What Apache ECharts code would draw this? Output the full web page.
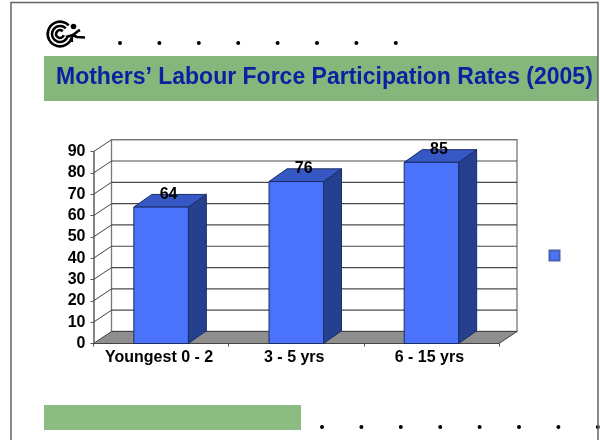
<!DOCTYPE html>
<html><head><meta charset="utf-8">
<style>html,body{margin:0;padding:0;background:#fff}#c{width:600px;height:440px}</style>
<script src="https://cdn.jsdelivr.net/npm/echarts@6/dist/echarts.min.js"></script>
</head><body><div id="c"></div>
<script>
const categories = ['Youngest 0 - 2', '3 - 5 yrs', '6 - 15 yrs'];
const values = [64, 76, 85];
const yTicks = [0, 10, 20, 30, 40, 50, 60, 70, 80, 90];
const titleText = 'Mothers\u2019 Labour Force Participation Rates (2005)';

const DX = 18, DY = -12;
const BAR_W = 54.5, BDX = 18, BDY = -12.7;
const FONT = '"Liberation Sans", Arial, sans-serif';
const chart = echarts.init(document.getElementById('c'), null, {renderer: 'canvas'});

function wallItem(params, api) {
  const cs = params.coordSys;
  const v = api.value(1);
  const y = api.coord([0, v])[1];
  const x0 = cs.x, x1 = cs.x + cs.width;
  const children = [];
  if (v === 0) {
    const yb = y;
    children.push({type: 'polygon', shape: {points: [[x0, yb], [x0 + DX, yb + DY], [x1 + DX, yb + DY], [x1, yb]]},
      style: {fill: '#8e8e8e', stroke: '#444', lineWidth: 1}});
    const top = api.coord([0, 90])[1];
    children.unshift({type: 'rect', shape: {x: x0 + DX, y: top + DY, width: cs.width, height: yb - top},
      style: {fill: '#fff', stroke: '#777', lineWidth: 1.3}});
  } else {
    children.push({type: 'line', shape: {x1: x0, y1: y, x2: x0 + DX, y2: y + DY}, style: {stroke: '#444', lineWidth: 1}});
    children.push({type: 'line', shape: {x1: x0 + DX, y1: y + DY, x2: x1 + DX, y2: y + DY},
      style: {stroke: v === 90 ? '#777' : '#4a4a4a', lineWidth: 1.2}});
  }
  return {type: 'group', children};
}

function barItem(params, api) {
  const p = api.coord([api.value(0), api.value(1)]);
  const b = api.coord([api.value(0), 0]);
  const l = p[0] - BAR_W / 2, r = p[0] + BAR_W / 2, t = p[1], bot = b[1];
  const edge = '#1c2c66';
  return {type: 'group', children: [
    {type: 'polygon', shape: {points: [[r, t], [r + BDX, t + BDY], [r + BDX, bot + BDY], [r, bot]]},
      style: {fill: '#24408f', stroke: edge, lineWidth: 1}},
    {type: 'polygon', shape: {points: [[l, t], [l + BDX, t + BDY], [r + BDX, t + BDY], [r, t]]},
      style: {fill: '#3558c4', stroke: edge, lineWidth: 1}},
    {type: 'rect', shape: {x: l, y: t, width: BAR_W, height: bot - t},
      style: {fill: '#4a72fa', stroke: edge, lineWidth: 1}},
    {type: 'text', x: p[0] + 7.5, y: t - 13,
      style: {text: String(api.value(1)), fill: '#000', font: 'bold 16px ' + FONT, align: 'center', verticalAlign: 'middle'}}
  ]};
}

const deco = [];
deco.push({type: 'polyline', shape: {points: [[11, 440], [11, 2.5], [598, 2.5], [598, 440]]}, style: {stroke: '#666', lineWidth: 1.5, fill: null}, z: 10});
deco.push({type: 'rect', shape: {x: 44, y: 56, width: 554, height: 45}, style: {fill: '#85b77d'}});
deco.push({type: 'rect', shape: {x: 44, y: 405, width: 257, height: 25}, style: {fill: '#8dbc83'}});
deco.push({type: 'text', x: 56, y: 77.5, style: {text: titleText, fill: '#0a22a2', font: 'bold 23px ' + FONT, verticalAlign: 'middle'}});
for (let i = 0; i < 8; i++) {
  deco.push({type: 'circle', shape: {cx: 120 + 39.4 * i, cy: 43, r: 2}, style: {fill: '#000'}});
  deco.push({type: 'circle', shape: {cx: 322 + 39.4 * i, cy: 427, r: 2}, style: {fill: '#000'}});
}
[12.3, 8, 3.9].forEach(r => {
  deco.push({type: 'arc', shape: {cx: 60, cy: 34, r, startAngle: 0.3, endAngle: 5.5, clockwise: true},
    style: {stroke: '#000', lineWidth: 2.6, fill: null}});
});
deco.push({type: 'circle', shape: {cx: 73.5, cy: 26.5, r: 2.8}, style: {fill: '#000'}});
deco.push({type: 'polyline', shape: {points: [[66, 37], [73, 35], [78, 31], [80, 30]]}, style: {stroke: '#000', lineWidth: 2.6, fill: null}});
deco.push({type: 'polyline', shape: {points: [[72, 35], [77, 37], [85, 37.5]]}, style: {stroke: '#000', lineWidth: 2.6, fill: null}});
deco.push({type: 'polyline', shape: {points: [[72, 36], [72, 42]]}, style: {stroke: '#000', lineWidth: 2.2, fill: null}});

chart.setOption({
  animation: false,
  backgroundColor: '#fff',
  graphic: deco,
  legend: {
    show: true, left: 548.5, top: 249.5, padding: 0, itemWidth: 10, itemHeight: 10,
    data: [{name: ' ', icon: 'rect'}],
    selectedMode: false, textStyle: {fontSize: 1}
  },
  grid: {left: 93.5, top: 151.7, width: 405.5, height: 191.8, containLabel: false},
  xAxis: {
    type: 'category', data: categories,
    axisLine: {lineStyle: {color: '#111', width: 1.2}},
    axisTick: {show: true, length: 3, lineStyle: {color: '#555'}},
    axisLabel: {color: '#000', fontFamily: FONT, fontWeight: 'bold', fontSize: 16, margin: 6, interval: 0, padding: [0, 4, 0, 0]}
  },
  yAxis: {
    type: 'value', min: 0, max: 90, interval: 10,
    axisLine: {show: true, lineStyle: {color: '#666', width: 1.6}},
    axisTick: {show: true, length: 3, lineStyle: {color: '#555'}},
    splitLine: {show: false},
    axisLabel: {color: '#000', fontFamily: FONT, fontWeight: 'bold', fontSize: 16, margin: 8}
  },
  series: [
    {type: 'custom', name: 'wall', z: 1, silent: true, renderItem: wallItem, data: yTicks.map(t => [0, t]), encode: {x: 0, y: 1}, clip: false},
    {type: 'custom', name: ' ', z: 3, renderItem: barItem, itemStyle: {color: '#4a72fa', borderColor: '#4a62a8', borderWidth: 1},
      data: values.map((v, i) => [i, v]), encode: {x: 0, y: 1}, clip: false}
  ]
});
</script></body></html>
